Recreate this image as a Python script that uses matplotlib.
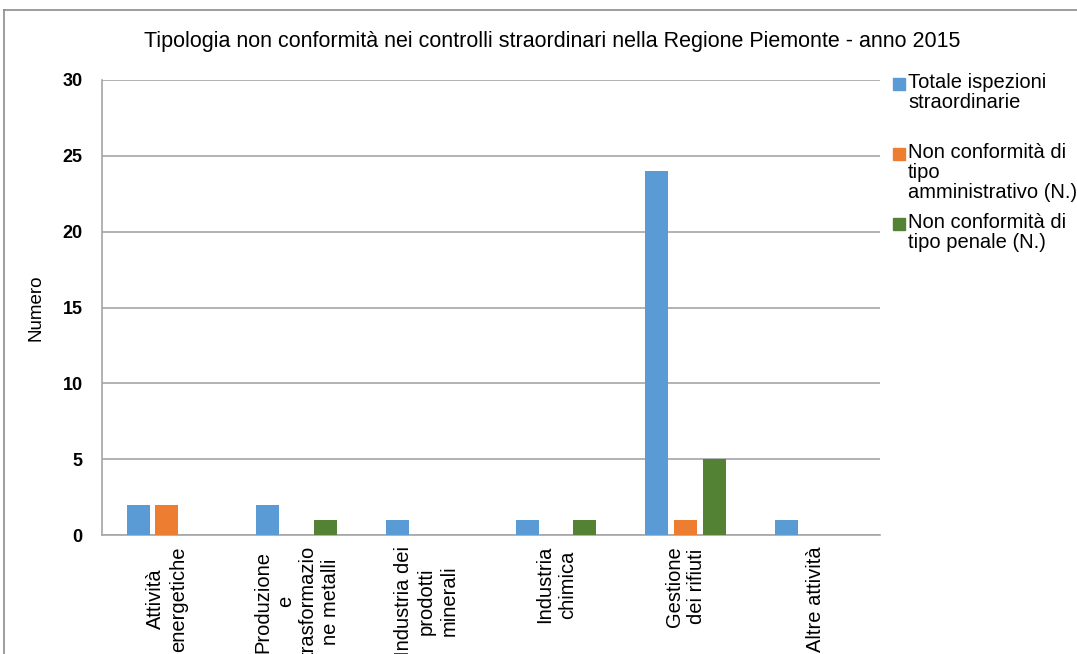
import matplotlib.pyplot as plt
import numpy as np
from matplotlib.lines import Line2D
from matplotlib.patches import Rectangle

plt.rcParams['font.family'] = ['Liberation Sans', 'DejaVu Sans']

categories = ['Attività\nenergetiche', 'Produzione\ne\ntrasformazio\nne metalli',
              'Industria dei\nprodotti\nminerali', 'Industria\nchimica',
              'Gestione\ndei rifiuti', 'Altre attività']
series_names = ['Totale ispezioni\nstraordinarie',
                'Non conformità di\ntipo\namministrativo (N.)',
                'Non conformità di\ntipo penale (N.)']
totale = [2, 2, 1, 1, 24, 1]
amministrativo = [2, 0, 0, 0, 1, 0]
penale = [0, 1, 0, 1, 5, 0]
colors = ['#5B9BD5', '#ED7D31', '#548235']

W, H = 1077, 654
fig = plt.figure(figsize=(W / 100, H / 100), dpi=100)
ax = fig.add_axes([102 / W, 1 - 535 / H, 778 / W, 455 / H])

x = np.arange(len(categories))
step = 0.22
width = 0.177
for i, (vals, col) in enumerate(zip([totale, amministrativo, penale], colors)):
    ax.bar(x + (i - 1) * step, vals, width, color=col, zorder=3)

ax.set_xlim(-0.5, len(categories) - 0.5)
ax.set_ylim(0, 30)
ax.set_yticks(range(0, 31, 5))
ax.yaxis.grid(True, color='#A6A6A6', linewidth=1.2, zorder=0)
for s in ['top', 'right']:
    ax.spines[s].set_visible(False)
for s in ['left', 'bottom']:
    ax.spines[s].set_color('#A6A6A6')
    ax.spines[s].set_linewidth(1.2)
ax.tick_params(axis='both', length=0)
ax.tick_params(axis='y', pad=14)
for lab in ax.get_yticklabels():
    lab.set_fontsize(13)
    lab.set_fontweight('bold')

ax.set_xticks(x)
ax.set_xticklabels(categories, rotation=90, fontsize=14.5, ha='center', va='top',
                   multialignment='center', linespacing=1.25)
ax.tick_params(axis='x', pad=8)

ax.set_ylabel('Numero', fontsize=13.5)
ax.yaxis.set_label_coords(-0.074, 0.5)

fig.text(552 / W, 1 - 42 / H,
         'Tipologia non conformità nei controlli straordinari nella Regione Piemonte - anno 2015',
         ha='center', va='center', fontsize=15.5)

# legend drawn by hand so the swatch sits on the first line
legend_top = [73, 143, 213]
for name, col, ty in zip(series_names, colors, legend_top):
    fig.add_artist(Rectangle((893 / W, 1 - (ty + 17) / H), 12 / W, 12 / H,
                             transform=fig.transFigure, color=col))
    fig.text(908 / W, 1 - ty / H, name, ha='left', va='top', fontsize=14.5,
             linespacing=1.08)

# outer chart frame
fig.add_artist(Line2D([4 / W, 4 / W], [0, 1 - 10 / H], color='#8C8C8C', linewidth=1.2))
fig.add_artist(Line2D([4 / W, 1], [1 - 10 / H, 1 - 10 / H], color='#8C8C8C', linewidth=1.2))

fig.savefig('out.png', dpi=100)
